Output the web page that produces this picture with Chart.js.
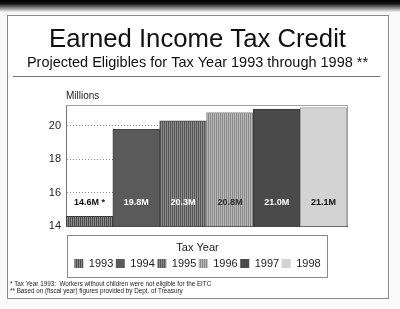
<!DOCTYPE html>
<html>
<head>
<meta charset="utf-8">
<script src="https://cdn.jsdelivr.net/npm/chart.js@4/dist/chart.umd.min.js"></script>
<style>
  html, body { margin: 0; padding: 0; background: #fafafa; }
  #wrap { position: relative; width: 400px; height: 309px; }
  canvas { display: block; }
</style>
</head>
<body>
<div id="wrap"><canvas id="c" width="400" height="309"></canvas></div>
<script>
// ---- data ----
const categories = ['1993', '1994', '1995', '1996', '1997', '1998'];
const eligibles = [14.6, 19.8, 20.3, 20.8, 21.0, 21.1];   // millions
const valueSuffixes = [' *', '', '', '', '', ''];
const yTicks = [14, 16, 18, 20];
const titleText = 'Earned Income Tax Credit';
const subtitleText = 'Projected Eligibles for Tax Year 1993 through 1998 **';
const axisUnit = 'Millions';
const legendTitle = 'Tax Year';
const footnotes = [
  '* Tax Year 1993:  Workers without children were not eligible for the EITC',
  '** Based on (fiscal year) figures provided by Dept. of Treasury'
];

// ---- styles ----
function stripes(c1, c2, w1, w2) {
  const p = document.createElement('canvas');
  p.width = w1 + w2; p.height = 2;
  const g = p.getContext('2d');
  g.fillStyle = c1; g.fillRect(0, 0, w1, 2);
  g.fillStyle = c2; g.fillRect(w1, 0, w2, 2);
  return document.getElementById('c').getContext('2d').createPattern(p, 'repeat');
}
const fills = [
  stripes('#4a4a4a', '#8a8a8a', 1, 1),
  '#5a5a5a',
  stripes('#555555', '#8c8c8c', 1, 1),
  stripes('#8a8a8a', '#b8b8b8', 1, 1),
  '#4a4a4a',
  '#d3d3d3'
];
const swatches = fills;
const edges = ['#3c3c3c', '#444', '#4a4a4a', '#888', '#383838', '#9a9a9a'];
const labelColors = ['#111', '#fff', '#fff', '#333', '#fff', '#111'];
const FONT = "'Liberation Sans', Arial, sans-serif";

const decor = {
  id: 'decor',
  beforeDraw(chart) {
    const ctx = chart.ctx, W = chart.width, H = chart.height;
    ctx.save();
    const g = ctx.createLinearGradient(0, 0, 0, 12);
    g.addColorStop(0, '#000'); g.addColorStop(0.3, '#111'); g.addColorStop(1, '#f2f2f2');
    ctx.fillStyle = g; ctx.fillRect(0, 0, W, 12);
    ctx.fillStyle = '#ffffff';
    ctx.fillRect(7.5, 15.5, 381, 283);
    ctx.strokeStyle = '#8a8a8a'; ctx.lineWidth = 1;
    ctx.strokeRect(7.5, 15.5, 381, 283);
    // rule under subtitle
    ctx.strokeStyle = '#777';
    ctx.beginPath(); ctx.moveTo(13, chart.chartArea.top - 28.5); ctx.lineTo(380, chart.chartArea.top - 28.5); ctx.stroke();
    ctx.restore();
  },
  afterDatasetsDraw(chart) {
    const ctx = chart.ctx, a = chart.chartArea;
    const meta = chart.getDatasetMeta(0);
    const ys = chart.scales.y;
    ctx.save();
    // plot frame top & right
    ctx.strokeStyle = '#a0a0a0'; ctx.lineWidth = 1;
    ctx.beginPath();
    ctx.moveTo(a.left, a.top + 0.5); ctx.lineTo(a.right + 0.5, a.top + 0.5); ctx.lineTo(a.right + 0.5, a.bottom);
    ctx.stroke();
    // value labels
    ctx.font = 'bold 9px ' + FONT;
    ctx.textAlign = 'center'; ctx.textBaseline = 'middle';
    const ly = ys.getPixelForValue(15.4);
    meta.data.forEach((bar, i) => {
      ctx.fillStyle = labelColors[i];
      ctx.fillText(eligibles[i].toFixed(1) + 'M' + valueSuffixes[i], bar.x, ly);
    });
    // unit label
    ctx.fillStyle = '#222'; ctx.font = '10px ' + FONT;
    ctx.textAlign = 'left'; ctx.textBaseline = 'alphabetic';
    ctx.fillText(axisUnit, a.left, a.top - 6);
    ctx.restore();
  },
  afterDraw(chart) {
    const ctx = chart.ctx;
    const lg = chart.legend;
    ctx.save();
    if (lg && lg.legendHitBoxes && lg.legendHitBoxes.length) {
      const hb = lg.legendHitBoxes;
      const l = Math.min(...hb.map(h => h.left)) - 7;
      const r = Math.max(...hb.map(h => h.left + h.width)) + 7;
      const t = lg.top + 9;
      const b = Math.max(...hb.map(h => h.top + h.height)) + 8;
      ctx.strokeStyle = '#8a8a8a'; ctx.lineWidth = 1;
      ctx.strokeRect(Math.round(l) + 0.5, Math.round(t) + 0.5, Math.round(r - l), Math.round(b - t));
    }
    ctx.fillStyle = '#222'; ctx.font = '6.3px ' + FONT;
    ctx.textAlign = 'left'; ctx.textBaseline = 'alphabetic';
    ctx.fillText(footnotes[0], 10, 286);
    ctx.fillText(footnotes[1], 10, 293);
    ctx.restore();
  }
};

new Chart(document.getElementById('c'), {
  type: 'bar',
  data: {
    labels: categories,
    datasets: [{
      data: eligibles,
      backgroundColor: fills,
      borderColor: edges,
      borderWidth: 1,
      barPercentage: 1,
      categoryPercentage: 1
    }]
  },
  plugins: [decor],
  options: {
    responsive: false,
    animation: false,
    devicePixelRatio: 1,
    layout: { padding: { top: 0, left: 0, right: 5, bottom: 30 } },
    scales: {
      x: {
        grid: { display: false, drawTicks: false },
        border: { display: true, color: '#444', width: 1 },
        ticks: { display: false },
        afterFit(s) { s.height = 0; }
      },
      y: {
        min: 14, max: 21.25,
        afterBuildTicks(s) { s.ticks = yTicks.map(v => ({ value: v })); },
        afterFit(s) { s.width = 66; },
        grid: {
          drawTicks: false,
          color: ctx => (ctx.tick && ctx.tick.value === 14) ? 'rgba(0,0,0,0)' : '#8a8a8a',
          lineWidth: 1
        },
        border: { display: true, color: '#777', width: 1, dash: [1, 2] },
        ticks: { padding: 5, color: '#222', font: { family: FONT, size: 11 } }
      },
      yRight: {
        position: 'right',
        min: 14, max: 21.25,
        grid: { display: false, drawTicks: false },
        border: { display: false },
        ticks: { display: false },
        afterFit(s) { s.width = 48; }
      }
    },
    plugins: {
      title: {
        display: true, text: titleText, color: '#111',
        font: { family: FONT, size: 25.7, weight: 'normal', lineHeight: 1 },
        padding: { top: 27.3, bottom: 0 }
      },
      subtitle: {
        display: true, text: subtitleText, color: '#111',
        font: { family: FONT, size: 14.5, weight: 'normal', lineHeight: 1.2 },
        padding: { top: 0.8, bottom: 33.8 }
      },
      legend: {
        display: true, position: 'bottom',
        title: { display: true, text: legendTitle, color: '#222',
                 font: { family: FONT, size: 11 }, padding: { top: 16, bottom: 0 } },
        labels: {
          boxWidth: 9, boxHeight: 9, padding: 2.5, color: '#222',
          font: { family: FONT, size: 11 },
          generateLabels(chart) {
            return categories.map((c, i) => ({
              text: c, fillStyle: swatches[i], strokeStyle: edges[i], lineWidth: 0,
              hidden: false, index: i, datasetIndex: 0
            }));
          }
        }
      },
      tooltip: { enabled: false }
    }
  }
});
</script>
</body>
</html>
